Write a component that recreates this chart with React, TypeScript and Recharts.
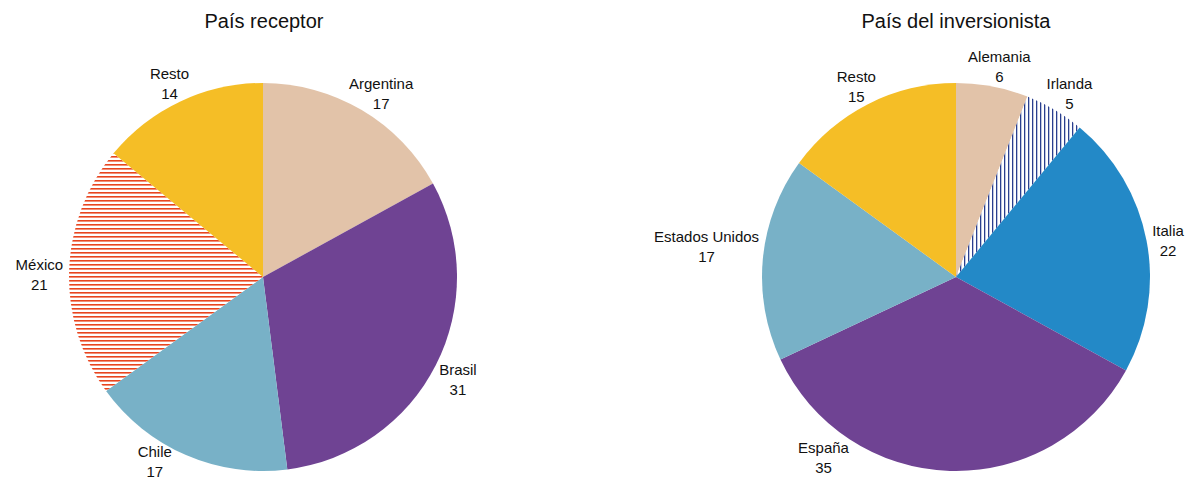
import { Cell, Pie, PieChart } from 'recharts';

const receptorNames = ['Argentina', 'Brasil', 'Chile', 'México', 'Resto'];
const receptorValues = [17, 31, 17, 21, 14];
const inversorNames = ['Alemania', 'Irlanda', 'Italia', 'España', 'Estados Unidos', 'Resto'];
const inversorValues = [6, 5, 22, 35, 17, 15];
const titles = ['País receptor', 'País del inversionista'];

const FILLS: Record<string, string> = {
  Argentina: '#E2C3A9',
  Alemania: '#E2C3A9',
  Brasil: '#6F4393',
  España: '#6F4393',
  Chile: '#78B1C7',
  'Estados Unidos': '#78B1C7',
  México: 'url(#redStripes)',
  Irlanda: 'url(#blueStripes)',
  Italia: '#2389C7',
  Resto: '#F5BE26',
};

// labels that were moved by hand in the original (angle clockwise from 12 o'clock)
const LABEL_MOVE: Record<string, { angle: number; gap?: number }> = {
  Chile: { angle: 211, gap: -1 },
  España: { angle: 216 },
  'Estados Unidos': { angle: 279 },
};

const FONT = '"Liberation Sans", Arial, Helvetica, sans-serif';
const LABEL_SIZE = 15;
const W = 1193;
const H = 480;
const R = 194;

const receptorData = receptorNames.map((name, i) => ({ name, value: receptorValues[i] }));
const inversorData = inversorNames.map((name, i) => ({ name, value: inversorValues[i] }));

let ctx: CanvasRenderingContext2D | null = null;
const textWidth = (s: string) => {
  if (!ctx) ctx = document.createElement('canvas').getContext('2d');
  if (!ctx) return s.length * LABEL_SIZE * 0.55;
  ctx.font = `${LABEL_SIZE}px ${FONT}`;
  return ctx.measureText(s).width;
};

const renderLabel = (props: any) => {
  const { cx, cy, midAngle, outerRadius, payload, value } = props;
  const name: string = payload?.name ?? props.name;
  const move = LABEL_MOVE[name];
  const theta = ((move?.angle ?? 90 - midAngle) * Math.PI) / 180;
  const ux = Math.sin(theta);
  const uy = -Math.cos(theta);
  const gap = move?.gap ?? 6;
  const ax = cx + (outerRadius + gap) * ux;
  const ay = cy + (outerRadius + gap) * uy;
  const w = Math.max(textWidth(name), textWidth(String(value)));
  const h = 36;
  const x = ax + (ux * w) / 2;
  const y = ay + (uy * h) / 2 + 4;
  return (
    <text x={x} y={y} textAnchor="middle" fill="#111" fontSize={LABEL_SIZE} fontFamily={FONT}>
      <tspan x={x} y={y - 4.5}>{name}</tspan>
      <tspan x={x} y={y + 15.5}>{value}</tspan>
    </text>
  );
};

export default function App() {
  return (
    <div style={{ position: 'absolute', left: 0, top: 0, width: W, height: H, background: '#fff' }}>
      <PieChart width={W} height={H} margin={{ top: 0, right: 0, bottom: 0, left: 0 }}>
        <defs>
          <pattern id="redStripes" patternUnits="userSpaceOnUse" width={8} height={4}>
            <rect x={0} y={0} width={8} height={4} fill="#fff" />
            <rect x={0} y={0} width={8} height={1.6} fill="#E8451F" />
          </pattern>
          <pattern id="blueStripes" patternUnits="userSpaceOnUse" width={4} height={8}>
            <rect x={0} y={0} width={4} height={8} fill="#fff" />
            <rect x={0} y={0} width={1.3} height={8} fill="#2A3F8F" />
          </pattern>
        </defs>
        <Pie
          data={receptorData}
          dataKey="value"
          nameKey="name"
          cx={263}
          cy={277}
          outerRadius={R}
          startAngle={90}
          endAngle={-270}
          stroke="none"
          label={renderLabel}
          labelLine={false}
          isAnimationActive={false}
        >
          {receptorData.map((d) => (
            <Cell key={d.name} fill={FILLS[d.name]} />
          ))}
        </Pie>
        <Pie
          data={inversorData}
          dataKey="value"
          nameKey="name"
          cx={956}
          cy={277}
          outerRadius={R}
          startAngle={90}
          endAngle={-270}
          stroke="none"
          label={renderLabel}
          labelLine={false}
          isAnimationActive={false}
        >
          {inversorData.map((d) => (
            <Cell key={d.name} fill={FILLS[d.name]} />
          ))}
        </Pie>
      </PieChart>
      <svg width={W} height={50} style={{ position: 'absolute', left: 0, top: 0, pointerEvents: 'none' }}>
        <text x={264} y={28} textAnchor="middle" fontSize={20} fontFamily={FONT} fill="#111">
          {titles[0]}
        </text>
        <text x={956} y={28} textAnchor="middle" fontSize={20} fontFamily={FONT} fill="#111">
          {titles[1]}
        </text>
      </svg>
    </div>
  );
}
